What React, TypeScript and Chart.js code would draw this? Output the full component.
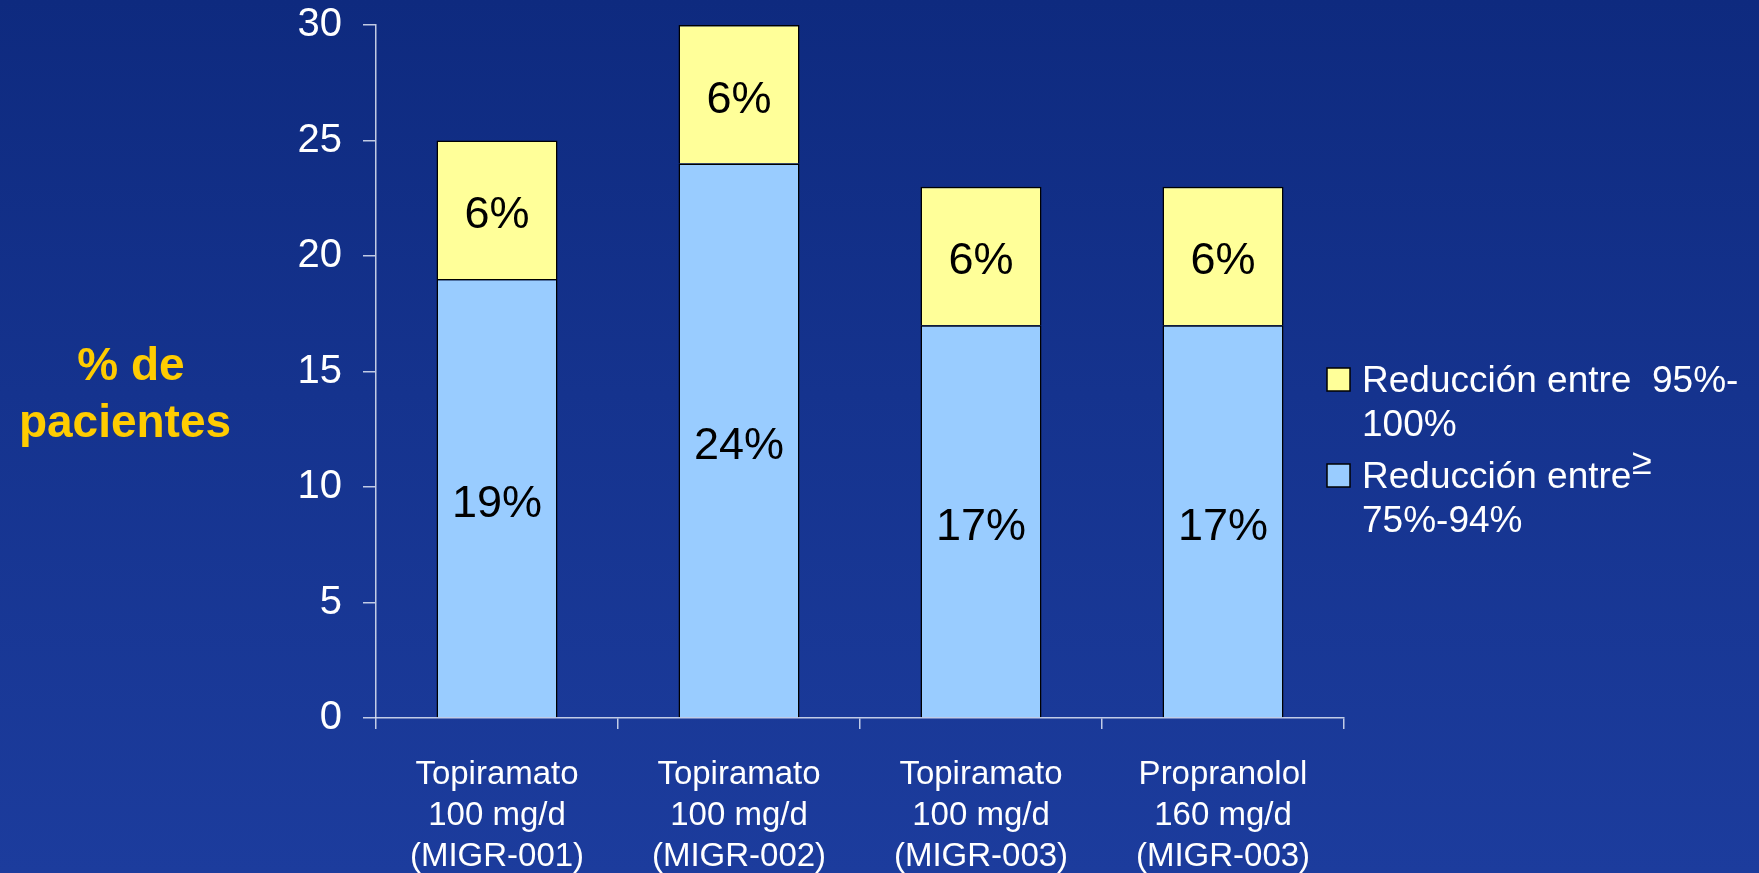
import React, { useEffect, useRef } from "react";
import { Chart, registerables } from "chart.js";

Chart.register(...registerables);

const categories: string[][] = [
  ["Topiramato", "100 mg/d", "(MIGR-001)"],
  ["Topiramato", "100 mg/d", "(MIGR-002)"],
  ["Topiramato", "100 mg/d", "(MIGR-003)"],
  ["Propranolol", "160 mg/d", "(MIGR-003)"],
];
const reduction75to94 = [19, 24, 17, 17];
const reduction95to100 = [6, 6, 6, 6];
const seriesNames = ["Reducción entre 75%-94%", "Reducción entre 95%-100%"];
const legendLines: string[][] = [
  ["Reducción entre  95%-", "100%"],
  ["Reducción entre", "75%-94%"],
];
const yTitleLines = ["% de", "pacientes"];
const yMin = 0;
const yMax = 30;
const yStep = 5;

const FONT = "'Liberation Sans', Arial, Helvetica, sans-serif";
const AXIS_COLOR = "rgba(225,230,245,0.85)";

const overlayPlugin = {
  id: "overlay",
  afterDatasetsDraw(chart: any) {
    const ctx = chart.ctx;
    ctx.save();
    ctx.fillStyle = "#000";
    ctx.font = `45px ${FONT}`;
    ctx.textAlign = "center";
    ctx.textBaseline = "middle";
    chart.data.datasets.forEach((ds: any, di: number) => {
      const meta = chart.getDatasetMeta(di);
      meta.data.forEach((el: any, i: number) => {
        const v = ds.data[i];
        const cy = (el.y + el.base) / 2;
        ctx.fillText(`${v}%`, el.x, cy + 6);
      });
    });
    ctx.restore();
  },
  afterDraw(chart: any) {
    const ctx = chart.ctx;
    ctx.save();
    // Y-axis title
    ctx.fillStyle = "#FFCC00";
    ctx.font = `bold 46px ${FONT}`;
    ctx.textAlign = "center";
    ctx.textBaseline = "alphabetic";
    ctx.fillText(yTitleLines[0], 131, 380);
    ctx.fillText(yTitleLines[1], 125, 437);

    // Legend (top of stack first)
    const order = [1, 0];
    order.forEach((di, i) => {
      const ds = chart.data.datasets[di];
      const boxY = 368 + i * 96;
      ctx.fillStyle = ds.backgroundColor;
      ctx.fillRect(1327, boxY, 23, 23);
      ctx.strokeStyle = "#000";
      ctx.lineWidth = 1.5;
      ctx.strokeRect(1327, boxY, 23, 23);
      ctx.fillStyle = "#FFFFFF";
      ctx.font = `37px ${FONT}`;
      ctx.textAlign = "left";
      ctx.textBaseline = "alphabetic";
      legendLines[i].forEach((line, li) => {
        ctx.fillText(line, 1362, 392 + i * 96 + li * 44);
      });
    });
    ctx.font = `36px ${FONT}`;
    ctx.fillStyle = "#FFFFFF";
    ctx.fillText("≥", 1632, 474);
    ctx.restore();
  },
};

export default function App() {
  const canvasRef = useRef<HTMLCanvasElement | null>(null);

  useEffect(() => {
    if (!canvasRef.current) return;
    const chart = new Chart(canvasRef.current, {
      type: "bar",
      data: {
        labels: categories,
        datasets: [
          {
            label: seriesNames[0],
            data: reduction75to94,
            backgroundColor: "#99CCFF",
            borderColor: "#000000",
            borderWidth: 1.5,
            barPercentage: 0.5,
            categoryPercentage: 1,
          },
          {
            label: seriesNames[1],
            data: reduction95to100,
            backgroundColor: "#FFFF99",
            borderColor: "#000000",
            borderWidth: 1.5,
            barPercentage: 0.5,
            categoryPercentage: 1,
          },
        ],
      },
      options: {
        responsive: false,
        animation: false,
        devicePixelRatio: 1,
        layout: { padding: { left: 0, right: 415, top: 25, bottom: 0 } },
        plugins: {
          legend: { display: false },
          tooltip: { enabled: false },
          title: { display: false },
        },
        scales: {
          x: {
            stacked: true,
            grid: {
              display: true,
              drawOnChartArea: false,
              drawTicks: true,
              tickLength: 11,
              color: AXIS_COLOR,
              lineWidth: 1.5,
              offset: true,
            },
            border: { display: true, color: AXIS_COLOR, width: 1.5 },
            ticks: {
              color: "#FFFFFF",
              font: { family: FONT, size: 33, lineHeight: 1.25 },
              padding: 25,
              maxRotation: 0,
              autoSkip: false,
            },
            afterFit: (scale: any) => {
              scale.height = 155;
              scale.paddingLeft = 0;
              scale.paddingRight = 0;
            },
          },
          y: {
            stacked: true,
            min: yMin,
            max: yMax,
            grid: {
              display: true,
              drawOnChartArea: false,
              drawTicks: true,
              tickLength: 13,
              color: AXIS_COLOR,
              lineWidth: 1.5,
            },
            border: { display: true, color: AXIS_COLOR, width: 1.5 },
            ticks: {
              stepSize: yStep,
              color: "#FFFFFF",
              font: { family: FONT, size: 40 },
              padding: 21,
            },
            afterFit: (scale: any) => {
              scale.width = 376;
              scale.paddingTop = 0;
              scale.paddingBottom = 0;
            },
          },
        },
      },
      plugins: [overlayPlugin],
    });
    return () => chart.destroy();
  }, []);

  return (
    <div
      style={{
        position: "fixed",
        left: 0,
        top: 0,
        width: 1759,
        height: 873,
        background: "linear-gradient(to bottom, #0e2a7f 0%, #15338e 45%, #1c3c9d 100%)",
        overflow: "hidden",
      }}
    >
      <canvas ref={canvasRef} width={1759} height={873} style={{ display: "block" }} />
    </div>
  );
}
